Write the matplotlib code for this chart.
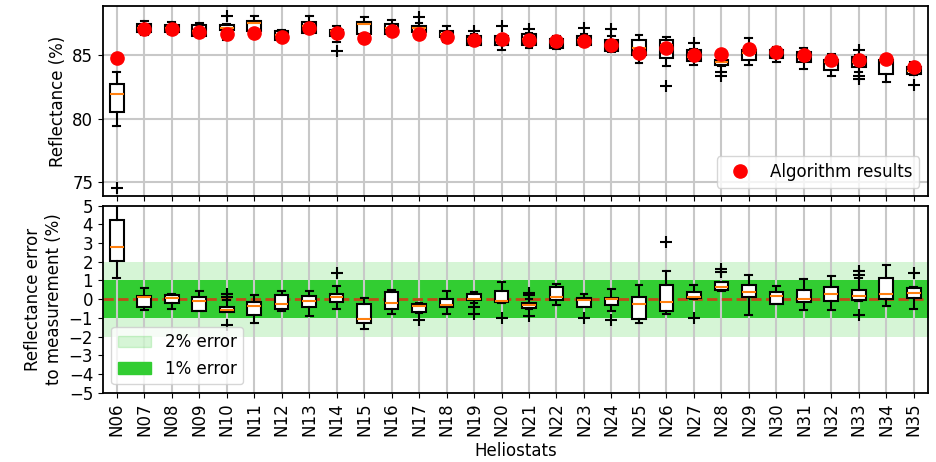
import numpy as np
import matplotlib
matplotlib.use("Agg")
import matplotlib.pyplot as plt
from matplotlib.patches import Patch

heliostats = ["N%02d" % i for i in range(6, 36)]

# measured reflectance per heliostat (box statistics, %)
refl_q1 = [80.53, 86.85, 86.85, 86.5, 87.0, 86.95, 86.2, 86.8, 86.5, 86.65,
           86.65, 86.85, 86.45, 85.85, 85.8, 85.8, 85.6, 85.8, 85.35, 85.0,
           84.8, 84.55, 84.25, 84.65, 84.8, 84.45, 83.85, 84.1, 83.55, 83.5]
refl_med = [81.98, 87.2, 87.15, 86.9, 87.2, 87.55, 86.6, 87.3, 86.9, 87.45,
            87.2, 87.2, 86.7, 86.3, 86.2, 86.3, 85.95, 86.2, 85.8, 85.6,
            85.8, 84.9, 84.45, 85.2, 85.15, 84.9, 84.45, 84.5, 84.6, 83.8]
refl_q3 = [82.77, 87.5, 87.4, 87.4, 87.4, 87.75, 86.95, 87.6, 87.0, 87.6,
           87.5, 87.3, 86.95, 86.5, 86.5, 86.7, 86.3, 86.5, 86.2, 86.25,
           86.25, 85.4, 84.65, 85.45, 85.45, 85.25, 84.65, 84.85, 84.65, 84.05]
refl_lo = [79.4, 86.6, 86.7, 86.45, 86.25, 86.9, 86.1, 86.75, 86.05, 86.6,
           86.6, 86.8, 86.05, 85.8, 85.4, 85.6, 85.5, 85.75, 85.3, 84.4,
           84.15, 84.25, 84.2, 84.25, 84.5, 83.95, 83.35, 83.7, 82.9, 83.45]
refl_hi = [83.68, 87.7, 87.6, 87.55, 87.5, 88.1, 87.0, 88.1, 87.3, 88.0,
           87.8, 87.55, 87.35, 86.7, 86.55, 86.75, 86.55, 86.7, 86.5, 86.6,
           86.45, 85.5, 84.8, 86.35, 85.65, 85.55, 85.1, 85.0, 84.85, 84.5]
refl_fliers = [[74.5], [], [], [], [88.15], [], [], [], [85.35], [],
               [], [88.0], [], [86.9], [87.35], [87.1], [], [87.2], [87.05], [],
               [82.55], [85.95], [83.65, 83.4], [], [], [], [], [85.45, 83.4, 83.1], [], [82.65]]
algorithm = [84.79, 87.1, 87.1, 86.85, 86.65, 86.8, 86.45, 87.2, 86.8, 86.35,
             86.95, 86.65, 86.45, 86.2, 86.3, 86.2, 86.15, 86.1, 85.8, 85.2,
             85.6, 85.05, 85.1, 85.5, 85.25, 85.0, 84.6, 84.6, 84.75, 84.1]

# reflectance error to measurement (box statistics, %)
err_q1 = [2.05, -0.42, -0.21, -0.61, -0.68, -0.87, -0.5, -0.42, -0.16, -1.25,
          -0.5, -0.68, -0.42, -0.07, -0.17, -0.47, -0.07, -0.42, -0.33, -1.08,
          -0.64, 0.05, 0.49, 0.14, -0.24, -0.17, -0.12, -0.07, 0.0, 0.05]
err_med = [2.8, 0.09, 0.05, -0.12, -0.56, -0.38, -0.26, -0.12, 0.14, -1.04,
           -0.21, -0.38, -0.3, 0.0, -0.12, -0.3, 0.14, -0.07, 0.0, -0.26,
           -0.16, 0.14, 0.66, 0.4, 0.19, 0.0, 0.26, 0.19, 0.26, 0.35]
err_q3 = [4.23, 0.19, 0.23, 0.09, -0.42, -0.16, 0.23, 0.19, 0.26, -0.24,
          0.37, -0.24, 0.0, 0.26, 0.43, -0.21, 0.63, 0.05, 0.05, 0.14,
          0.78, 0.4, 0.89, 0.78, 0.37, 0.49, 0.66, 0.49, 1.13, 0.57]
err_lo = [1.15, -0.59, -0.5, -0.61, -0.68, -1.29, -0.61, -0.9, -0.5, -1.6,
          -0.78, -0.72, -0.82, -0.2, -0.2, -0.5, -0.33, -0.42, -0.64, -1.3,
          -0.82, 0.0, 0.44, -0.85, -0.26, -0.59, -0.59, -0.12, -0.38, -0.5]
err_hi = [5.3, 0.57, 0.28, 0.45, -0.03, 0.23, 0.45, 0.45, 0.71, 0.05,
          0.49, -0.2, 0.43, 0.4, 0.89, 0.0, 0.8, 0.26, 0.52, 0.78,
          1.48, 0.78, 0.89, 1.27, 0.7, 1.06, 1.23, 1.13, 1.83, 0.65]
err_fliers = [[], [], [], [], [0.26, 0.1, -1.37], [], [], [], [1.41], [],
              [], [-1.11], [], [-0.42, -0.77], [-0.99], [0.35, 0.2, -0.9], [], [-1.03], [-1.13], [],
              [3.04], [-0.99], [1.62, 1.44], [], [], [], [], [1.48, 1.3, -0.85], [], [1.41]]


def box_stats(q1, med, q3, lo, hi, fliers):
    return [dict(q1=a, med=b, q3=c, whislo=d, whishi=e, fliers=f, label=n)
            for a, b, c, d, e, f, n in zip(q1, med, q3, lo, hi, fliers, heliostats)]


plt.rcParams["font.size"] = 12
fig = plt.figure(figsize=(9.36, 4.62), dpi=100)
ax1 = fig.add_axes([0.110, 0.576, 0.881, 0.411])
ax2 = fig.add_axes([0.110, 0.150, 0.881, 0.405])

pos = np.arange(1, len(heliostats) + 1)
box_kw = dict(patch_artist=True, widths=0.5,
              boxprops=dict(facecolor="white", edgecolor="black", linewidth=1.5),
              whiskerprops=dict(linewidth=1.5), capprops=dict(linewidth=1.5),
              medianprops=dict(color="C1", linewidth=1.5),
              flierprops=dict(marker="+", markersize=8, markeredgewidth=1.5))

# top: measured reflectance with algorithm estimate
ax1.grid(True, color="#c8c8c8", linewidth=1.5)
ax1.set_axisbelow(True)
ax1.bxp(box_stats(refl_q1, refl_med, refl_q3, refl_lo, refl_hi, refl_fliers),
        positions=pos, **box_kw)
ax1.plot(pos, algorithm, "o", color="red", markersize=9.5, label="Algorithm results", zorder=5)
ax1.set_ylim(73.9, 88.9)
ax1.set_yticks([75, 80, 85])
ax1.set_xlim(0.5, 30.5)
ax1.tick_params(labelbottom=False)
ax1.set_ylabel("Reflectance (%)")
ax1.legend(loc="lower right")

# bottom: error bands and per-heliostat errors
ax2.fill_between([0, 31], -2, 2, color="limegreen", alpha=0.2, linewidth=0)
ax2.fill_between([0, 31], -1, 1, color="limegreen", linewidth=0)
ax2.grid(True, axis="x", color="#c8c8c8", linewidth=1.5)
ax2.axhline(0, color="#c04a18", linestyle="--", linewidth=2, zorder=2)
ax2.bxp(box_stats(err_q1, err_med, err_q3, err_lo, err_hi, err_fliers),
        positions=pos, **box_kw)
ax2.set_ylim(-5, 5)
ax2.set_yticks(range(-5, 6))
ax2.set_xlim(0.5, 30.5)
ax2.set_xticks(pos)
ax2.set_xticklabels(heliostats, rotation=90)
ax2.set_xlabel("Heliostats")
ax2.set_ylabel("Reflectance error\nto measurement (%)")
handles = [Patch(color="limegreen", alpha=0.2, label="2% error"),
           Patch(color="limegreen", label="1% error")]
ax2.legend(handles=handles, loc="lower left")

for ax in (ax1, ax2):
    for s in ax.spines.values():
        s.set_linewidth(1.3)

fig.savefig("out.png", dpi=100)
